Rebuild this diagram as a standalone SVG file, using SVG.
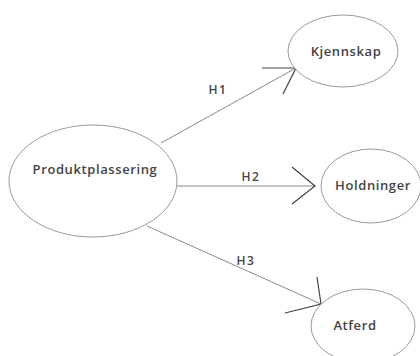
<svg xmlns="http://www.w3.org/2000/svg" width="420" height="356" viewBox="0 0 420 356">
<style>
.node{fill:#fff;stroke:#9a9a9a;stroke-width:1}
.lbl{font-family:"Open Sans","DejaVu Sans",sans-serif;font-weight:600;font-size:13px;letter-spacing:0.6px;fill:#444;text-anchor:middle}
.hl{font-family:"Open Sans","DejaVu Sans",sans-serif;font-weight:600;font-size:12px;letter-spacing:1.5px;fill:#444;text-anchor:middle}
.edge{fill:none;stroke:#8a8a8a;stroke-width:1}
.head{fill:none;stroke:#444;stroke-width:1.2}
</style>
<rect width="420" height="356" fill="#fff"/>
<g id="connectors">
<line class="edge" x1="161" y1="143" x2="296" y2="68"/>
<polyline class="head" points="262,68 296,68 283,94"/>
<text class="hl" x="218" y="94">H1</text>
<line class="edge" x1="177" y1="186" x2="315" y2="186"/>
<polyline class="head" points="292,167 315,186 292,204"/>
<text class="hl" x="251" y="181">H2</text>
<line class="edge" x1="147" y1="226" x2="321" y2="304"/>
<polyline class="head" points="317,277 321,304 285,313"/>
<text class="hl" x="246" y="265">H3</text>
</g>
<g id="produktplassering">
<ellipse class="node" cx="93" cy="181" rx="84" ry="56"/>
<text class="lbl" x="95" y="174">Produktplassering</text>
</g>
<g id="kjennskap">
<ellipse class="node" cx="343" cy="51" rx="55" ry="36"/>
<text class="lbl" x="346" y="56">Kjennskap</text>
</g>
<g id="holdninger">
<ellipse class="node" cx="371" cy="186" rx="50" ry="37"/>
<text class="lbl" x="373" y="190">Holdninger</text>
</g>
<g id="atferd">
<ellipse class="node" cx="363" cy="326" rx="52" ry="37"/>
<text class="lbl" x="355" y="330">Atferd</text>
</g>
</svg>
